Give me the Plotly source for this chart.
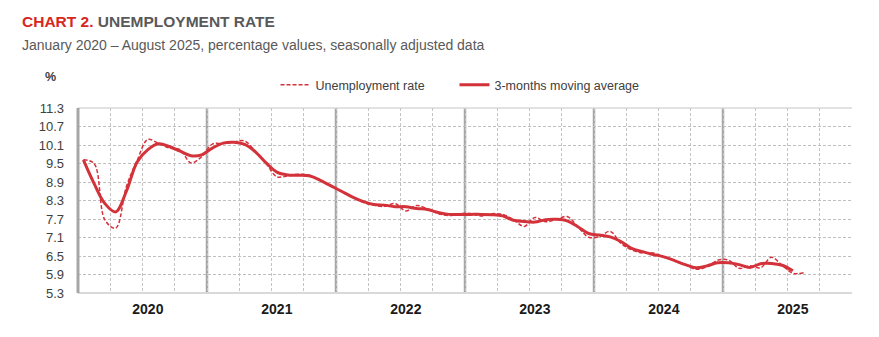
import plotly.graph_objects as go

# ---- data ----
years = ["2020", "2021", "2022", "2023", "2024", "2025"]
month_index = list(range(68))  # Jan 2020 .. Aug 2025

unemployment_rate = [
    9.62, 9.50, 7.67, 7.40, 8.75, 9.60, 10.28, 10.15, 10.00, 9.95, 9.52, 9.72,   # 2020
    10.13, 10.15, 10.20, 10.23, 9.90, 9.50, 9.07, 9.10, 9.15, 9.12, 8.97, 8.77,  # 2021
    8.60, 8.42, 8.24, 8.15, 8.11, 8.20, 7.96, 8.14, 8.03, 7.88, 7.81, 7.87,      # 2022
    7.88, 7.80, 7.87, 7.85, 7.68, 7.46, 7.75, 7.61, 7.69, 7.78, 7.45, 7.11,      # 2023
    7.13, 7.30, 6.91, 6.70, 6.60, 6.60, 6.46, 6.35, 6.22, 6.07, 6.15, 6.36,      # 2024
    6.37, 6.10, 6.18, 6.12, 6.46, 6.20, 5.94, 5.96,                              # 2025
]
moving_average = [
    9.62, 8.85, 8.20, 7.93, 8.60, 9.55, 9.95, 10.14, 10.05, 9.90, 9.75, 9.78,
    10.00, 10.16, 10.19, 10.12, 9.88, 9.52, 9.22, 9.13, 9.12, 9.10, 8.96, 8.78,
    8.60, 8.42, 8.27, 8.17, 8.15, 8.10, 8.10, 8.04, 8.01, 7.91, 7.85, 7.85,
    7.85, 7.85, 7.84, 7.80, 7.66, 7.62, 7.60, 7.68, 7.69, 7.64, 7.45, 7.23,
    7.18, 7.12, 6.97, 6.75, 6.64, 6.55, 6.47, 6.35, 6.22, 6.12, 6.18, 6.28,
    6.28, 6.22, 6.13, 6.25, 6.26, 6.20, 6.02,
]
y_ticks = [5.3, 5.9, 6.5, 7.1, 7.7, 8.3, 8.9, 9.5, 10.1, 10.7, 11.3]

RED = "#d3323b"
TITLE_RED = "#d7261e"
GREY_TXT = "#595959"
FONT = "Liberation Sans, Arial, sans-serif"

fig = go.Figure()
fig.add_trace(go.Scatter(
    x=month_index, y=unemployment_rate, mode="lines", name="Unemployment rate",
    line=dict(color=RED, width=1.5, dash="4px,2px", shape="spline", smoothing=1),
    legend="legend",
))
fig.add_trace(go.Scatter(
    x=month_index[:len(moving_average)], y=moving_average, mode="lines",
    name="3-months moving average",
    line=dict(color=RED, width=3, shape="spline", smoothing=1),
    legend="legend2",
))

# year separator lines (solid, darker)
for k in range(1, len(years)):
    fig.add_shape(type="line", xref="x", yref="paper",
                  x0=12 * k - 0.5, x1=12 * k - 0.5, y0=0, y1=1,
                  line=dict(color="#a6a6a6", width=2.5), layer="below")
# top border and bottom line
fig.add_shape(type="line", xref="paper", yref="paper", x0=0, x1=1, y0=1, y1=1,
              line=dict(color="#d9d9d9", width=1.5), layer="below")
fig.add_shape(type="line", xref="paper", yref="paper", x0=0, x1=1, y0=0, y1=0,
              line=dict(color="#d9d9d9", width=2), layer="below")
# left axis line
fig.add_shape(type="line", xref="paper", yref="paper", x0=0, x1=0, y0=0, y1=1,
              line=dict(color="#a6a6a6", width=3), layer="above")

fig.update_xaxes(
    range=[-0.5, 71.5], showgrid=False, zeroline=False, showline=False,
    tickmode="array", tickvals=[12 * k + 6 for k in range(len(years))], ticktext=years,
    ticks="", ticklabelstandoff=6,
    tickfont=dict(family=FONT, size=14, color="#1a1a1a", weight="bold"),
    minor=dict(tick0=-0.5, dtick=3, showgrid=True, gridcolor="#c4c4c4", griddash="3px,2px", gridwidth=1),
)
fig.update_yaxes(
    range=[5.3, 11.3], tickmode="array", tickvals=y_ticks,
    ticktext=[f"{v:.1f}" for v in y_ticks],
    showgrid=True, gridcolor="#bfbfbf", griddash="3px,2px", gridwidth=1,
    zeroline=False, showline=False, ticks="", ticklabelstandoff=13,
    tickfont=dict(family=FONT, size=13, color="#404040"),
)

fig.add_annotation(
    xref="paper", yref="paper", x=-0.0749, y=1.47, xanchor="left", yanchor="middle",
    showarrow=False,
    text=f"<b><span style='color:{TITLE_RED}'>CHART 2.</span> UNEMPLOYMENT RATE</b>",
    font=dict(family=FONT, size=15.5, color=GREY_TXT),
)
fig.add_annotation(
    xref="paper", yref="paper", x=-0.0749, y=1.341, xanchor="left", yanchor="middle",
    showarrow=False,
    text="January 2020 – August 2025, percentage values, seasonally adjusted data",
    font=dict(family=FONT, size=14, color=GREY_TXT),
)
fig.add_annotation(
    xref="paper", yref="paper", x=-0.036, y=1.168, xanchor="center", yanchor="middle",
    showarrow=False, text="<b>%</b>",
    font=dict(family=FONT, size=12.5, color="#404040"),
)

legend_font = dict(family=FONT, size=12.5, color="#404040")
fig.update_layout(
    width=879, height=337,
    margin=dict(l=78, r=27, t=108, b=44),
    paper_bgcolor="white", plot_bgcolor="white",
    showlegend=True,
    legend=dict(orientation="h", x=0.2552, y=1.124, xanchor="left", yanchor="middle",
                font=legend_font, bgcolor="rgba(0,0,0,0)"),
    legend2=dict(orientation="h", x=0.4864, y=1.124, xanchor="left", yanchor="middle",
                 font=legend_font, bgcolor="rgba(0,0,0,0)"),
)

fig.write_html("out.html")
